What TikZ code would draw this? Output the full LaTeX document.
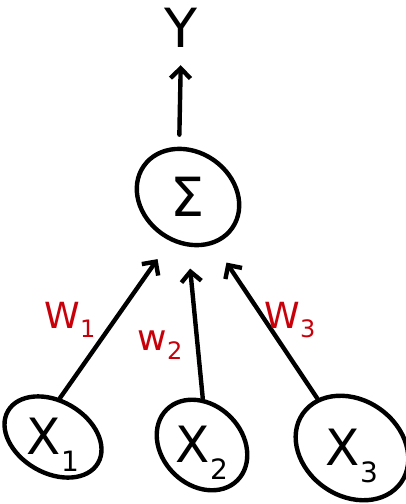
\documentclass[tikz,border=0pt]{standalone}
\usepackage{fontspec}
\setmainfont{DejaVu Sans}
\usetikzlibrary{shapes.geometric,arrows.meta}
\definecolor{wred}{HTML}{C8000A}
\newcommand{\subidx}[1]{\raisebox{-0.35em}{\fontsize{28}{28}\selectfont #1}}
\newcommand{\wsub}[1]{\raisebox{-0.25em}{\fontsize{24}{24}\selectfont #1}}
\newcommand{\unitfont}{\fontsize{50}{50}\selectfont}
% centred text that takes no room, so the ellipse keeps its set size
\newcommand{\inside}[3]{\rotatebox{#1}{\smash{\makebox[0pt]{\raisebox{-#2}{#3}}}}}
\begin{document}
\begin{tikzpicture}[x=1pt,y=-1pt,
  sketch/.style={line width=4.4pt, line cap=round, line join=round},
  unit/.style={sketch, draw, ellipse, inner sep=0pt},
  wire/.style={sketch, -{Straight Barb[length=10pt,width=20pt,line width=4.4pt]}},
  weight/.style={text=wred, font=\fontsize{36}{36}\selectfont}
]
\useasboundingbox (0,0) rectangle (406,504);

% output and summation unit
\node[font=\fontsize{54}{54}\selectfont] (y) at (181,28) {Y};
\node[unit, minimum width=108pt, minimum height=90pt, rotate=-35] (sum) at (188,197)
  {\inside{35}{19pt}{\fontsize{54}{54}\selectfont Σ}};

% input units
\node[unit, minimum width=104pt, minimum height=72pt, rotate=-30] (x1) at (53,437)
  {\inside{30}{17pt}{\unitfont X\subidx{1}}};
\node[unit, minimum width=100pt, minimum height=80pt, rotate=-45] (x2) at (202,445)
  {\inside{45}{17pt}{\unitfont X\subidx{2}}};
\node[unit, minimum width=120pt, minimum height=96pt, rotate=-35] (x3) at (352,448)
  {\inside{35}{17pt}{\unitfont X\subidx{3}}};

% weighted connections
\draw[wire, shorten >=22pt] (x1.110) -- (sum.283);
\draw[wire, shorten >=22pt] (x2.134) -- (sum.305);
\draw[wire, shorten >=22pt] (x3.160) -- (sum.334);
\draw[wire, shorten <=12pt, shorten >=14pt] (sum.135) -- (y.south);

% weight labels
\node[weight] (w1) at (70,320) {W\wsub{1}};
\node[weight] (w2) at (160,345) {w\wsub{2}};
\node[weight] (w3) at (290,320) {W\wsub{3}};
\end{tikzpicture}
\end{document}
